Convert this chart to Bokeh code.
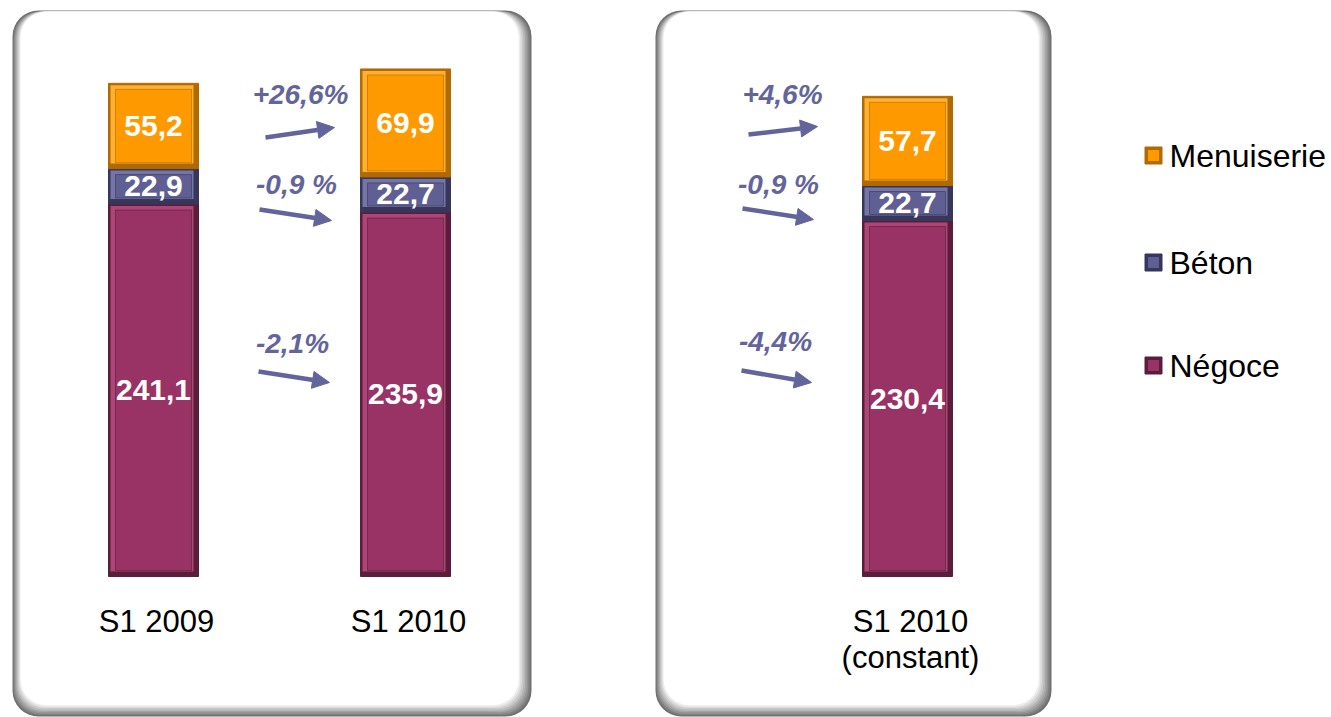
from bokeh.plotting import figure
from bokeh.models import Range1d, BoxAnnotation, Arrow, NormalHead
from bokeh.core.properties import value
from bokeh.embed import file_html
from bokeh.resources import INLINE

# ---------------- data ----------------
categories = ["S1 2009", "S1 2010", "S1 2010\n(constant)"]
negoce = [241.1, 235.9, 230.4]
beton = [22.9, 22.7, 22.7]
menuiserie = [55.2, 69.9, 57.7]
series_names = ["Menuiserie", "Béton", "Négoce"]
changes_reported = ["+26,6%", "-0,9 %", "-2,1%"]   # S1 2009 -> S1 2010
changes_constant = ["+4,6%", "-0,9 %", "-4,4%"]   # S1 2009 -> S1 2010 (constant)

# ---------------- layout / style ----------------
W, H = 1331, 717
PX = 1.545            # pixels per unit of value
BASE = 576            # pixel row of value 0
X_POS = [153, 405, 907]
BAR_HALF = 45
FONT = value("Liberation Sans")

faces = {"Négoce": ("#993366", "#5a1d3c", "#ab4677"),
         "Béton": ("#5f5f94", "#37375c", "#7676a6"),
         "Menuiserie": ("#ff9900", "#b06a00", "#ffb030")}
PCT_COLOR = "#64649c"

p = figure(width=W, height=H, output_backend="svg", toolbar_location=None,
           x_range=Range1d(0, W),
           y_range=Range1d((BASE - H) / PX, BASE / PX),
           min_border=0, outline_line_color=None)
p.extra_y_ranges = {"px": Range1d(H, 0)}
p.axis.visible = False
p.grid.visible = False
p.background_fill_color = "white"
p.border_fill_color = "white"

# ---------------- panels ----------------
def panel(l, r, t, b):
    n = 9
    for i in range(n):
        g = int(0x70 + (0xff - 0x70) * i / (n - 1))
        col = "#%02x%02x%02x" % (g, g, g)
        box = BoxAnnotation(left=l + i * 1.0, right=r - i * 1.6,
                            top=t + (0 if i == 0 else 1), bottom=b - i * 1.4,
                            fill_color=col, fill_alpha=1.0, line_color=None,
                            border_radius=26, level="underlay",
                            y_range_name="px")
        p.add_layout(box)

panel(12, 531, 10, 716)
panel(655, 1051, 10, 716)

# ---------------- bars ----------------
def bevel_bar(x, bottom, top, name):
    face, dark, light = faces[name]
    l, r = x - BAR_HALF, x + BAR_HALF
    d = 6 / PX
    p.quad(left=[l], right=[r], bottom=[bottom], top=[top],
           fill_color=dark, line_color=dark, line_width=1)
    p.quad(left=[l + 2], right=[r - 5], bottom=[bottom + 5 / PX], top=[top - 2 / PX],
           fill_color=light, line_color=None)
    p.quad(left=[l + 7], right=[r - 7], bottom=[bottom + d], top=[top - d],
           fill_color=face, line_color=dark, line_width=1, line_alpha=0.6)

for i, x in enumerate(X_POS):
    stacks = [("Négoce", negoce[i]), ("Béton", beton[i]), ("Menuiserie", menuiserie[i])]
    b = 0.0
    for name, v in stacks:
        bevel_bar(x, b, b + v, name)
        p.text(x=[x], y=[b + v / 2], text=[("%.1f" % v).replace(".", ",")],
               text_font=FONT, text_font_style="bold", text_font_size="30px",
               text_color="white", text_align="center", text_baseline="middle")
        b += v

# ---------------- category labels ----------------
for x, cat in zip(X_POS, categories):
    for j, line in enumerate(cat.split("\n")):
        p.text(x=[x + 3], y=[621 + j * 36], text=[line], y_range_name="px",
               text_font=FONT, text_font_size="31px", text_color="black",
               text_align="center", text_baseline="middle")

# ---------------- change arrows ----------------
arrows_left = [((265, 137), (334, 127)), ((259, 209), (331, 220)), ((258, 371), (329, 382))]
text_left = [(300, 94), (296, 184), (292, 343)]
arrows_right = [((748, 134), (817, 126)), ((742, 208), (813, 219)), ((741, 370), (811, 382))]
text_right = [(782, 94), (778, 184), (775, 341)]

for arrows, texts, labels in [(arrows_left, text_left, changes_reported),
                              (arrows_right, text_right, changes_constant)]:
    for (s, e), (tx, ty), lab in zip(arrows, texts, labels):
        p.add_layout(Arrow(end=NormalHead(size=17, fill_color=PCT_COLOR, line_color=PCT_COLOR),
                           x_start=s[0], y_start=s[1], x_end=e[0], y_end=e[1],
                           line_color=PCT_COLOR, line_width=4.5, y_range_name="px"))
        p.text(x=[tx], y=[ty], text=[lab], y_range_name="px",
               text_font=FONT, text_font_style="bold italic", text_font_size="28px",
               text_color=PCT_COLOR, text_align="center", text_baseline="middle")

# ---------------- legend ----------------
legend_y = [155, 262, 365]
for name, ly in zip(series_names, legend_y):
    face, dark, light = faces[name]
    p.rect(x=[1153], y=[ly], width=17, height=17, width_units="screen",
           height_units="screen", fill_color=dark, line_color=dark, y_range_name="px")
    p.rect(x=[1153], y=[ly], width=11, height=11, width_units="screen",
           height_units="screen", fill_color=face, line_color=None, y_range_name="px")
    p.text(x=[1169], y=[ly], text=[name], y_range_name="px",
           text_font=FONT, text_font_size="32px", text_color="black",
           text_align="left", text_baseline="middle")

open("out.html", "w").write(file_html(p, INLINE))
